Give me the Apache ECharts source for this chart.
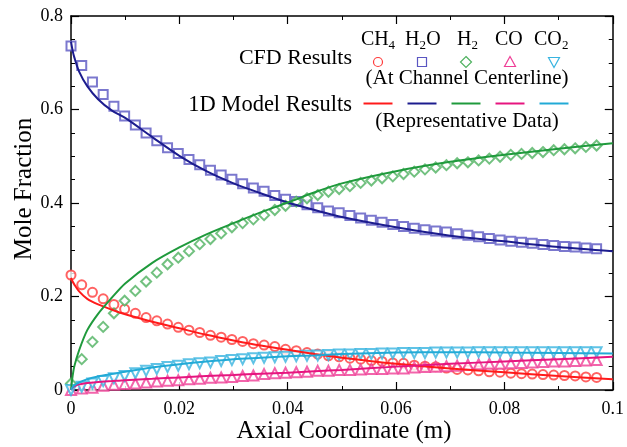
<!DOCTYPE html>
<html><head><meta charset="utf-8">
<script src="https://cdn.jsdelivr.net/npm/echarts@6/dist/echarts.min.js"></script>
<style>html,body{margin:0;padding:0;background:#fff}#c{width:627px;height:447px}</style>
</head><body><div id="c"></div>
<script>
// CFD sample positions (m)
var cfdX = [0, 0.00198, 0.00396, 0.00594, 0.00792, 0.0099, 0.01188, 0.01386, 0.01584, 0.01782,
  0.0198, 0.02178, 0.02376, 0.02574, 0.02772, 0.0297, 0.03168, 0.03366, 0.03564, 0.03762,
  0.0396, 0.04158, 0.04356, 0.04554, 0.04752, 0.0495, 0.05148, 0.05346, 0.05544, 0.05742,
  0.0594, 0.06138, 0.06336, 0.06534, 0.06732, 0.0693, 0.07128, 0.07326, 0.07524, 0.07722,
  0.0792, 0.08118, 0.08316, 0.08514, 0.08712, 0.0891, 0.09108, 0.09306, 0.09504, 0.09702];
var cfdCH4 = [0.246, 0.225, 0.209, 0.195, 0.183, 0.173, 0.164, 0.155, 0.148, 0.141, 0.134, 0.128, 0.123, 0.117, 0.113, 0.108, 0.104, 0.099,
  0.096, 0.093, 0.087, 0.084, 0.080, 0.077, 0.073, 0.071, 0.068, 0.066, 0.063, 0.061, 0.058, 0.057, 0.053, 0.051, 0.050, 0.047,
  0.044, 0.043, 0.041, 0.039, 0.038, 0.036, 0.035, 0.034, 0.033, 0.032, 0.031, 0.030, 0.028, 0.027];
var cfdH2O = [0.736, 0.694, 0.659, 0.632, 0.607, 0.586, 0.567, 0.550, 0.533, 0.518, 0.506, 0.493, 0.482, 0.470, 0.460, 0.451, 0.441, 0.432,
  0.425, 0.416, 0.408, 0.403, 0.396, 0.390, 0.383, 0.379, 0.373, 0.368, 0.363, 0.359, 0.354, 0.350, 0.346, 0.343, 0.340, 0.338,
  0.334, 0.331, 0.328, 0.324, 0.321, 0.318, 0.316, 0.314, 0.311, 0.309, 0.307, 0.306, 0.304, 0.302];
var cfdH2 = [0.014, 0.066, 0.103, 0.135, 0.164, 0.191, 0.212, 0.232, 0.251, 0.269, 0.283, 0.297, 0.312, 0.323, 0.335, 0.348, 0.357, 0.365,
  0.374, 0.385, 0.394, 0.403, 0.410, 0.417, 0.424, 0.430, 0.436, 0.443, 0.448, 0.453, 0.457, 0.462, 0.467, 0.472, 0.476, 0.481,
  0.485, 0.487, 0.491, 0.495, 0.499, 0.503, 0.505, 0.507, 0.509, 0.513, 0.515, 0.517, 0.520, 0.523];
var cfdCO = [0.0, 0.003, 0.005, 0.009, 0.011, 0.013, 0.014, 0.016, 0.018, 0.020, 0.021, 0.023, 0.024, 0.026, 0.027, 0.028, 0.030, 0.031,
  0.034, 0.036, 0.037, 0.038, 0.039, 0.041, 0.041, 0.043, 0.043, 0.044, 0.045, 0.045, 0.046, 0.046, 0.048, 0.049, 0.050, 0.051,
  0.052, 0.054, 0.055, 0.056, 0.056, 0.057, 0.058, 0.059, 0.060, 0.061, 0.061, 0.062, 0.063, 0.064];
var cfdCO2 = [0.0, 0.007, 0.014, 0.019, 0.025, 0.030, 0.036, 0.041, 0.045, 0.049, 0.052, 0.055, 0.057, 0.059, 0.062, 0.064, 0.066, 0.068,
  0.069, 0.070, 0.071, 0.072, 0.073, 0.074, 0.075, 0.076, 0.076, 0.077, 0.077, 0.078, 0.078, 0.079, 0.079, 0.079, 0.080, 0.080,
  0.080, 0.080, 0.081, 0.081, 0.081, 0.081, 0.081, 0.081, 0.081, 0.081, 0.081, 0.081, 0.081, 0.081];

// 1D model sample positions (m)
var modelX = [0, 0.0003, 0.0006, 0.0015, 0.003, 0.005, 0.0075, 0.01, 0.015, 0.02, 0.025, 0.03, 0.035, 0.04, 0.045, 0.05, 0.06, 0.07, 0.08, 0.09, 0.1];
var modelCH4 = [0.240, 0.232, 0.226, 0.211, 0.195, 0.183, 0.172, 0.162, 0.146, 0.132, 0.118, 0.106, 0.095, 0.086, 0.077, 0.069, 0.056, 0.046, 0.038, 0.030, 0.023];
var modelH2O = [0.745, 0.726, 0.712, 0.681, 0.650, 0.622, 0.598, 0.582, 0.541, 0.501, 0.468, 0.442, 0.421, 0.401, 0.385, 0.370, 0.348, 0.330, 0.318, 0.306, 0.297];
var modelH2 = [0.0, 0.030, 0.050, 0.085, 0.128, 0.163, 0.197, 0.228, 0.272, 0.305, 0.333, 0.357, 0.380, 0.401, 0.423, 0.442, 0.468, 0.488, 0.503, 0.516, 0.528];
var modelCO = [0.0, 0.005, 0.008, 0.012, 0.015, 0.017, 0.019, 0.021, 0.024, 0.027, 0.030, 0.032, 0.035, 0.037, 0.040, 0.043, 0.050, 0.056, 0.061, 0.066, 0.071];
var modelCO2 = [0.0, 0.006, 0.010, 0.016, 0.023, 0.029, 0.034, 0.039, 0.048, 0.055, 0.061, 0.066, 0.069, 0.072, 0.074, 0.077, 0.080, 0.081, 0.080, 0.079, 0.078];

var speciesParts = [['CH', '4', ''], ['H', '2', 'O'], ['H', '2', ''], ['CO', '', ''], ['CO', '2', '']];
var legendTexts = ['CFD Results', '(At Channel Centerline)', '1D Model Results', '(Representative Data)'];
var axisTitles = ['Axial Coordinate (m)', 'Mole Fraction'];

var lineColors = ['#ff1a1a', '#1c1c8e', '#1f9a3c', '#e6157f', '#22aad6'];
var markColors = ['#ff3b3b', '#5a56c2', '#4fb260', '#ef3e96', '#38b4e0'];
var symbols = ['emptyCircle', 'emptyRect', 'emptyDiamond', 'emptyTriangle', 'emptyTriangle'];
var symSizes = [9, 9, 10, 10, 10];
var symRot = [0, 0, 0, 0, 180];
var cfdVals = [cfdCH4, cfdH2O, cfdH2, cfdCO, cfdCO2];
var modelVals = [modelCH4, modelH2O, modelH2, modelCO, modelCO2];

function pairs(xs, ys) { return xs.map(function (x, i) { return [x, ys[i]]; }); }

var FONT = '"Liberation Serif", "Times New Roman", serif';
var series = [];
for (var k = 0; k < 5; k++) {
  series.push({
    type: 'line', data: pairs(modelX, modelVals[k]), smooth: 0.3, showSymbol: false,
    lineStyle: { color: lineColors[k], width: 2 }, z: 3, silent: true
  });
}
for (var k = 0; k < 5; k++) {
  series.push({
    type: 'scatter', data: pairs(cfdX, cfdVals[k]), symbol: symbols[k], symbolSize: symSizes[k],
    symbolRotate: symRot[k],
    itemStyle: { color: markColors[k], borderColor: markColors[k], borderWidth: 1 }, z: 2, silent: true
  });
}

var chart = echarts.init(document.getElementById('c'), null, { renderer: 'canvas' });
var axisCommon = {
  axisLine: { show: true, onZero: false, lineStyle: { color: '#000', width: 1.5 } },
  axisTick: { show: true, inside: true, length: 8, lineStyle: { color: '#000', width: 1.2 } },
  splitLine: { show: false }
};
function ax(extra) { return Object.assign({}, JSON.parse(JSON.stringify(axisCommon)), extra); }

var legendX = [378, 422, 466, 510, 554];
var graphics = [];
function txt(x, y, s, size, align, rot) {
  return { type: 'text', x: x, y: y, rotation: rot || 0,
    style: { text: s, font: size + 'px ' + FONT, fill: '#000', align: align || 'left', verticalAlign: 'middle' } };
}
graphics.push(txt(352, 58, legendTexts[0], 22, 'right'));
graphics.push(txt(467, 78, legendTexts[1], 21, 'center'));
graphics.push(txt(352, 105, legendTexts[2], 22.5, 'right'));
graphics.push(txt(467, 121, legendTexts[3], 21, 'center'));
graphics.push(txt(344, 431, axisTitles[0], 25, 'center'));
graphics.push(txt(24, 189, axisTitles[1], 25, 'center', Math.PI / 2));
// species labels with subscripts (main part / subscript / trailing)
var spLeft = [[361, 388.5, 0], [405, 419.6, 426.3], [457, 471.5, 0], [495, 0, 0], [534, 562, 0]];
for (var k = 0; k < 5; k++) {
  var p = speciesParts[k];
  graphics.push(txt(spLeft[k][0], 40, p[0], 20, 'left'));
  if (p[1]) graphics.push(txt(spLeft[k][1], 46, p[1], 13, 'left'));
  if (p[2]) graphics.push(txt(spLeft[k][2], 40, p[2], 20, 'left'));
}
// legend markers
var mY = 62, st = function (c) { return { fill: 'none', stroke: c, lineWidth: 1.2 }; };
graphics.push({ type: 'circle', shape: { cx: legendX[0], cy: mY, r: 4.5 }, style: st(markColors[0]) });
graphics.push({ type: 'rect', shape: { x: legendX[1] - 4.5, y: mY - 4.5, width: 9, height: 9 }, style: st(markColors[1]) });
graphics.push({ type: 'polygon', shape: { points: [[legendX[2], mY - 5.5], [legendX[2] + 5.5, mY], [legendX[2], mY + 5.5], [legendX[2] - 5.5, mY]] }, style: st(markColors[2]) });
graphics.push({ type: 'polygon', shape: { points: [[legendX[3], mY - 5.5], [legendX[3] + 5.5, mY + 4.5], [legendX[3] - 5.5, mY + 4.5]] }, style: st(markColors[3]) });
graphics.push({ type: 'polygon', shape: { points: [[legendX[4], mY + 5.5], [legendX[4] + 5.5, mY - 4.5], [legendX[4] - 5.5, mY - 4.5]] }, style: st(markColors[4]) });
for (var k = 0; k < 5; k++) {
  graphics.push({ type: 'line', shape: { x1: legendX[k] - 14.5, y1: 103.5, x2: legendX[k] + 14.5, y2: 103.5 }, style: { stroke: lineColors[k], lineWidth: 2 } });
}

var minorX = { show: true, splitNumber: 2, length: 4, lineStyle: { color: '#000', width: 1 } };
var minorY = { show: true, splitNumber: 4, length: 4, lineStyle: { color: '#000', width: 1 } };
chart.setOption({
  animation: false,
  backgroundColor: '#fff',
  grid: { left: 71, right: 13, top: 16, bottom: 57 },
  xAxis: [
    ax({ type: 'value', min: 0, max: 0.1, interval: 0.02, position: 'bottom', minorTick: minorX,
      axisLabel: { color: '#000', fontFamily: FONT, fontSize: 18, margin: 10 } }),
    ax({ type: 'value', min: 0, max: 0.1, interval: 0.02, position: 'top', minorTick: minorX,
      axisLabel: { show: false } })
  ],
  yAxis: [
    ax({ type: 'value', min: 0, max: 0.8, interval: 0.2, position: 'left', minorTick: minorY,
      axisLabel: { color: '#000', fontFamily: FONT, fontSize: 18, margin: 8 } }),
    ax({ type: 'value', min: 0, max: 0.8, interval: 0.2, position: 'right', minorTick: minorY,
      axisLabel: { show: false } })
  ],
  series: series,
  graphic: graphics
});
</script></body></html>
